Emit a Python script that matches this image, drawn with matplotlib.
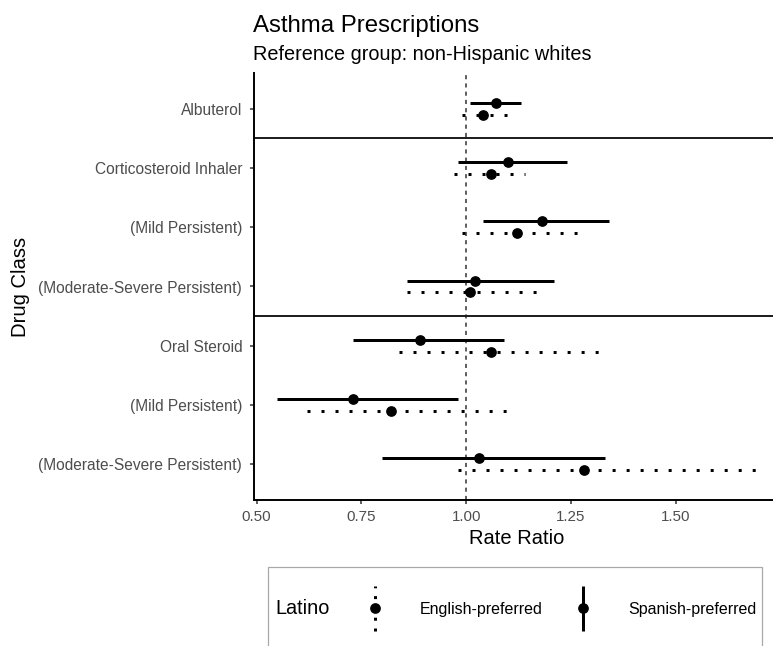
import matplotlib
matplotlib.use("Agg")
import matplotlib.pyplot as plt
from matplotlib.lines import Line2D
from matplotlib.patches import Rectangle
from matplotlib.legend_handler import HandlerBase

plt.rcParams['font.family'] = ['Liberation Sans', 'DejaVu Sans']

# ---- data ----
drugs = ["Albuterol", "Corticosteroid Inhaler", "(Mild Persistent)",
         "(Moderate-Severe Persistent)", "Oral Steroid", "(Mild Persistent)",
         "(Moderate-Severe Persistent)"]
eng_est = [1.04, 1.06, 1.12, 1.01, 1.06, 0.82, 1.28]
eng_lo = [0.99, 0.97, 0.99, 0.86, 0.84, 0.62, 0.98]
eng_hi = [1.10, 1.14, 1.27, 1.17, 1.32, 1.10, 1.69]
spa_est = [1.07, 1.10, 1.18, 1.02, 0.89, 0.73, 1.03]
spa_lo = [1.01, 0.98, 1.04, 0.86, 0.73, 0.55, 0.80]
spa_hi = [1.13, 1.24, 1.34, 1.21, 1.09, 0.98, 1.33]
xticks = [0.50, 0.75, 1.00, 1.25, 1.50]
xtick_labels = ["0.50", "0.75", "1.00", "1.25", "1.50"]
group_breaks = [6.5, 3.5]

W, H = 773, 646
fig = plt.figure(figsize=(W / 100, H / 100), dpi=100)
ax = fig.add_axes([254 / W, 146 / H, 525 / W, 427 / H])

n = len(drugs)
ypos = [n - i for i in range(n)]
dodge = 0.1
LW = 2.16
DOT = (0, (1, 3.67))
MS = 6.7

for i, y in enumerate(ypos):
    # Spanish-preferred (solid, above)
    ax.plot([spa_lo[i], spa_hi[i]], [y + dodge, y + dodge], color='black',
            lw=LW, solid_capstyle='butt', zorder=3)
    ax.plot([spa_est[i]], [y + dodge], 'o', color='black', ms=MS, zorder=4)
    # English-preferred (dotted, below)
    ax.plot([eng_lo[i], eng_hi[i]], [y - dodge, y - dodge], color='black',
            lw=LW, linestyle=DOT, dash_capstyle='butt', zorder=3)
    ax.plot([eng_est[i]], [y - dodge], 'o', color='black', ms=MS, zorder=4)

ax.axvline(1.0, color='#333333', lw=1.1, linestyle=(0, (2.7, 2.7)), zorder=2)
for yb in group_breaks:
    ax.axhline(yb, color='#1a1a1a', lw=1.4, zorder=2)

ax.set_xlim(0.494, 1.746)
ax.set_ylim(0.4, n + 0.6)
ax.set_xticks(xticks)
ax.set_xticklabels(xtick_labels)
ax.set_yticks(ypos)
ax.set_yticklabels(drugs)

for s in ['top', 'right']:
    ax.spines[s].set_visible(False)
for s in ['left', 'bottom']:
    ax.spines[s].set_linewidth(1.4)
    ax.spines[s].set_color('black')

ax.tick_params(axis='x', length=3, width=1.1, color='#333333', pad=4,
               labelsize=10.9, labelcolor='#4d4d4d')
ax.tick_params(axis='y', length=3, width=1.1, color='#333333', pad=5.5,
               labelsize=11.2, labelcolor='#4d4d4d')

ax.set_xlabel("Rate Ratio", fontsize=14.5, va='center')
ax.xaxis.set_label_coords(0.5, -39 / 427)
ax.set_ylabel("Drug Class", fontsize=14.6, va='center', ha='center')
ax.yaxis.set_label_coords((20 - 254) / 525, 0.5)

fig.text(253 / W, 1 - 32 / H, "Asthma Prescriptions", fontsize=17.3, va='baseline')
fig.text(253 / W, 1 - 60 / H, "Reference group: non-Hispanic whites",
         fontsize=14.3, va='baseline')


# ---- legend ----
class VerticalRangeHandler(HandlerBase):
    def __init__(self, style, **kw):
        super().__init__(**kw)
        self.style = style

    def create_artists(self, legend, orig_handle, xdescent, ydescent,
                       width, height, fontsize, trans):
        cx = width / 2 - xdescent
        cy = height / 2 - ydescent
        ln = Line2D([cx, cx], [cy - 16, cy + 16], color='black', lw=LW,
                    linestyle=self.style,
                    dash_capstyle='butt', solid_capstyle='butt')
        mk = Line2D([cx], [cy], marker='o', ms=MS, color='black', ls='none')
        ln.set_transform(trans)
        mk.set_transform(trans)
        return [ln, mk]


h_eng = Line2D([], [], color='black', lw=LW, linestyle=DOT)
h_spa = Line2D([], [], color='black', lw=LW, linestyle='-')
hm = {h_eng: VerticalRangeHandler((0, (1, 2.6))),
      h_spa: VerticalRangeHandler('-')}
leg = fig.legend([h_eng, h_spa], ["English-preferred", "Spanish-preferred"],
                 handler_map=hm, loc='center left',
                 bbox_to_anchor=(359 / W, 37 / H), bbox_transform=fig.transFigure,
                 ncol=2, frameon=False, borderpad=0, borderaxespad=0,
                 fontsize=11.5, handlelength=2, handletextpad=1.8,
                 columnspacing=1.56, handleheight=1.0)
fig.text(275 / W, 37 / H, "Latino", fontsize=14.3, va='center')
fig.patches.append(Rectangle((268 / W, -0.05), (762 - 268) / W, (646 - 567) / H + 0.05,
                             transform=fig.transFigure, fill=False,
                             edgecolor='#a8a8a8', lw=0.9))

fig.savefig("out.png", dpi=100)
